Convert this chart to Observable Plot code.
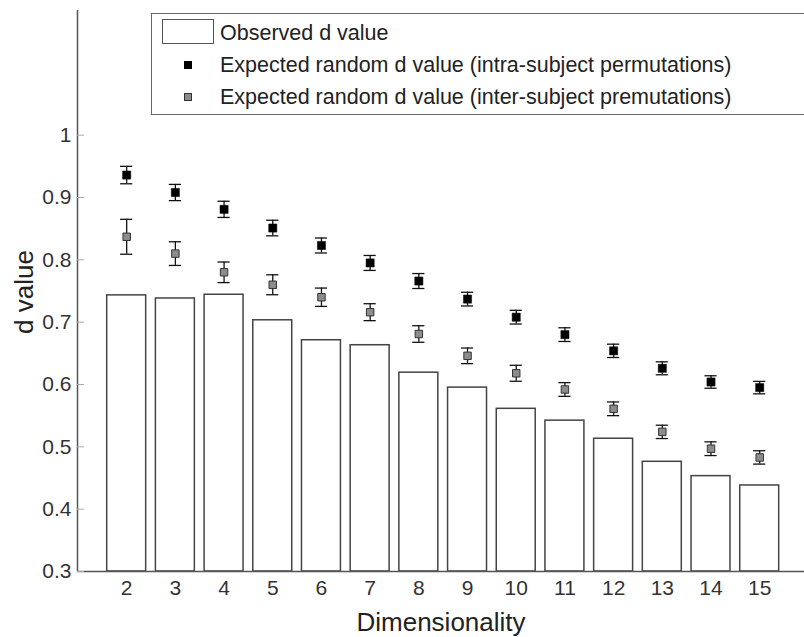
<!DOCTYPE html>
<html>
<head>
<meta charset="utf-8">
<script src="https://cdn.jsdelivr.net/npm/d3@7"></script>
<script src="https://cdn.jsdelivr.net/npm/@observablehq/plot@0.6"></script>
<style>
  html, body { margin: 0; padding: 0; background: #fff; overflow: hidden; }
  #wrap { position: relative; width: 804px; height: 637px; overflow: hidden; font-family: "Liberation Sans", Arial, sans-serif; color: #222; }
  #legend {
    position: absolute; left: 151px; top: 13px; width: 700px; height: 102px;
    border: 1.5px solid #666; background: #fff; box-sizing: border-box;
    font-size: 21.5px; color: #222;
  }
  .row { position: absolute; left: 0; height: 30px; display: flex; align-items: center; }
  .row .lbl { position: absolute; left: 68px; white-space: nowrap; }
  .sw { position: absolute; }
</style>
</head>
<body>
<div id="wrap">
  <div id="chart"></div>
  <div id="legend">
    <div class="row" style="top:4px">
      <div class="sw" style="left:10px;top:1px;width:52px;height:25px;border:1.5px solid #555;box-sizing:border-box;background:#fff"></div>
      <span class="lbl">Observed d value</span>
    </div>
    <div class="row" style="top:36px">
      <div class="sw" style="left:32px;top:11px;width:8px;height:8px;background:#000"></div>
      <span class="lbl">Expected random d value (intra-subject permutations)</span>
    </div>
    <div class="row" style="top:68px">
      <div class="sw" style="left:32px;top:11px;width:8px;height:8px;background:#8c8c8c;border:1px solid #333;box-sizing:border-box"></div>
      <span class="lbl">Expected random d value (inter-subject premutations)</span>
    </div>
  </div>
</div>
<script>
// Dimensionality of the embedding
const dims = [2, 3, 4, 5, 6, 7, 8, 9, 10, 11, 12, 13, 14, 15];
// Observed d value (bars)
const observed = [0.743, 0.738, 0.744, 0.703, 0.671, 0.663, 0.619, 0.595, 0.561, 0.542, 0.513, 0.476, 0.453, 0.438];
// Expected random d value, intra-subject permutations (mean and error)
const intraMean = [0.936, 0.908, 0.881, 0.851, 0.823, 0.795, 0.766, 0.737, 0.708, 0.680, 0.654, 0.626, 0.604, 0.595];
const intraErr  = [0.014, 0.013, 0.013, 0.0125, 0.012, 0.012, 0.012, 0.011, 0.011, 0.011, 0.0107, 0.0104, 0.010, 0.010];
// Expected random d value, inter-subject permutations (mean and error)
const interMean = [0.837, 0.810, 0.780, 0.760, 0.740, 0.716, 0.681, 0.646, 0.618, 0.592, 0.561, 0.524, 0.497, 0.483];
const interErr  = [0.028, 0.019, 0.0165, 0.016, 0.0147, 0.0136, 0.0133, 0.0125, 0.0128, 0.011, 0.011, 0.0107, 0.011, 0.0107];
// Axis tick values
const yTicks = [0.3, 0.4, 0.5, 0.6, 0.7, 0.8, 0.9, 1];
const xDomain = [0.99, 15.92];
const yDomain = [0.3, 1.2];

const barHalf = 0.4;   // half bar width, in dimension units
const capHalf = 0.125; // half error-cap width

const rows = dims.map((d, i) => ({
  dim: d,
  obs: observed[i],
  intra: intraMean[i], intraE: intraErr[i],
  inter: interMean[i], interE: interErr[i]
}));

const chart = Plot.plot({
  width: 804,
  height: 637,
  marginLeft: 77,
  marginRight: 0,
  marginTop: 10,
  marginBottom: 66,
  style: { fontFamily: "'Liberation Sans', Arial, sans-serif", color: "#222", background: "#fff" },
  x: { type: "linear", domain: xDomain, axis: null },
  y: { domain: yDomain, axis: null },
  marks: [
    // observed d value bars
    Plot.rectY(rows, {
      x1: d => d.dim - barHalf, x2: d => d.dim + barHalf,
      y1: yDomain[0], y2: "obs",
      fill: "#fff", stroke: "#444", strokeWidth: 1.5
    }),
    // error bars: intra-subject
    Plot.ruleX(rows, { x: "dim", y1: d => d.intra - d.intraE, y2: d => d.intra + d.intraE, stroke: "#111", strokeWidth: 1.3 }),
    Plot.ruleY(rows, { y: d => d.intra - d.intraE, x1: d => d.dim - capHalf, x2: d => d.dim + capHalf, stroke: "#111", strokeWidth: 1.3 }),
    Plot.ruleY(rows, { y: d => d.intra + d.intraE, x1: d => d.dim - capHalf, x2: d => d.dim + capHalf, stroke: "#111", strokeWidth: 1.3 }),
    // error bars: inter-subject
    Plot.ruleX(rows, { x: "dim", y1: d => d.inter - d.interE, y2: d => d.inter + d.interE, stroke: "#111", strokeWidth: 1.3 }),
    Plot.ruleY(rows, { y: d => d.inter - d.interE, x1: d => d.dim - capHalf, x2: d => d.dim + capHalf, stroke: "#111", strokeWidth: 1.3 }),
    Plot.ruleY(rows, { y: d => d.inter + d.interE, x1: d => d.dim - capHalf, x2: d => d.dim + capHalf, stroke: "#111", strokeWidth: 1.3 }),
    // mean markers
    Plot.dot(rows, { x: "dim", y: "inter", symbol: "square", r: 4.2, fill: "#8c8c8c", stroke: "#333", strokeWidth: 1 }),
    Plot.dot(rows, { x: "dim", y: "intra", symbol: "square", r: 4.6, fill: "#000", stroke: "#000", strokeWidth: 0.5 }),
    // axis lines
    Plot.ruleY([yDomain[0]], { stroke: "#555", strokeWidth: 1.5 }),
    Plot.ruleX([xDomain[0]], { stroke: "#555", strokeWidth: 1.5 }),
    // inward y ticks
    Plot.tickY(yTicks, { y: d => d, stroke: "#aaa", strokeWidth: 1, insetRight: 720 }),
    // tick labels
    Plot.axisY(yTicks, { tickSize: 0, tickPadding: 6, fontSize: 21, tickFormat: d => String(d), label: null, fill: "#333" }),
    Plot.axisX(dims, { tickSize: 0, tickPadding: 9, fontSize: 21, tickFormat: d => String(d), label: null, fill: "#333" }),
    // axis titles
    Plot.text(["Dimensionality"], { frameAnchor: "bottom", dy: 59, fontSize: 26, fill: "#222" }),
    Plot.text(["d value"], { frameAnchor: "left", textAnchor: "middle", dx: -53, dy: 1, rotate: -90, fontSize: 26, fill: "#222" })
  ]
});
document.getElementById("chart").appendChild(chart);
</script>
</body>
</html>
